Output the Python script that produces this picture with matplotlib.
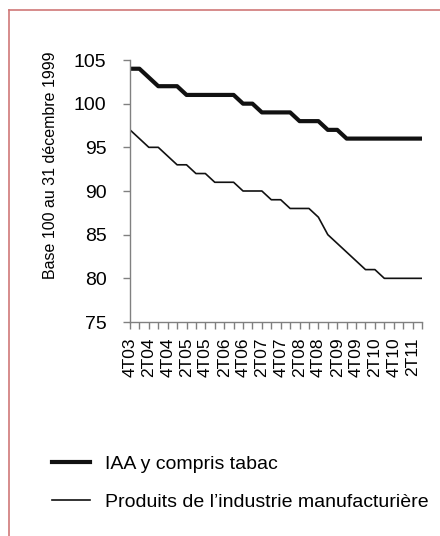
import matplotlib
matplotlib.use("Agg")
import matplotlib.pyplot as plt
from matplotlib.lines import Line2D

# Quarterly indices, base 100 at 31 Dec 1999, 4T03 .. 3T11
quarters = [f"{q}T{y:02d}" for y in range(3, 12) for q in range(1, 5)][3:35]
iaa = [104, 104, 103, 102, 102, 102, 101, 101, 101, 101, 101, 101,
       100, 100, 99, 99, 99, 99, 98, 98, 98, 97, 97, 96,
       96, 96, 96, 96, 96, 96, 96, 96]
manuf = [97, 96, 95, 95, 94, 93, 93, 92, 92, 91, 91, 91,
         90, 90, 90, 89, 89, 88, 88, 88, 87, 85, 84, 83,
         82, 81, 81, 80, 80, 80, 80, 80]

series_labels = ["IAA y compris tabac", "Produits de l\u2019industrie manufacturière"]
y_label = "Base 100 au 31 décembre 1999"

plt.rcParams["font.family"] = ["Liberation Sans", "DejaVu Sans"]

fig = plt.figure(figsize=(4.4, 5.36), dpi=100)
ax = fig.add_axes([130 / 440, 1 - 322 / 536, 292 / 440, 262 / 536])

x = list(range(len(quarters)))
ax.plot(x, iaa, color="#111111", lw=3.0, label=series_labels[0])
ax.plot(x, manuf, color="#111111", lw=1.2, label=series_labels[1])

ax.set_xlim(0, len(quarters) - 1)
ax.set_ylim(75, 105)
ax.set_yticks(range(75, 106, 5))
ax.set_xticks(x)
ax.set_xticklabels([q if i % 2 == 0 else "" for i, q in enumerate(quarters)],
                   rotation=90, fontsize=12.5)

axis_grey = "#808080"
for side in ("top", "right"):
    ax.spines[side].set_visible(False)
for side in ("left", "bottom"):
    ax.spines[side].set_color(axis_grey)
    ax.spines[side].set_linewidth(1.0)
ax.tick_params(axis="both", color=axis_grey, length=5, width=1.0)
ax.tick_params(axis="y", labelsize=14, pad=12)
ax.tick_params(axis="x", pad=6)
ax.set_ylabel(y_label, fontsize=11.5)
ax.yaxis.set_label_coords(-0.245, 0.60)

fig.legend(loc="upper left", bbox_to_anchor=(34 / 440, 1 - 438 / 536),
           frameon=False, fontsize=14, handlelength=2.0,
           handletextpad=0.75, labelspacing=1.05)

# partial frame around the figure
frame_col = "#d07878"
fig.add_artist(Line2D([9 / 440, 9 / 440], [0, 1 - 10 / 536], color=frame_col, lw=1.2))
fig.add_artist(Line2D([9 / 440, 1], [1 - 10 / 536, 1 - 10 / 536], color=frame_col, lw=1.2))

fig.savefig("out.png", dpi=100)
